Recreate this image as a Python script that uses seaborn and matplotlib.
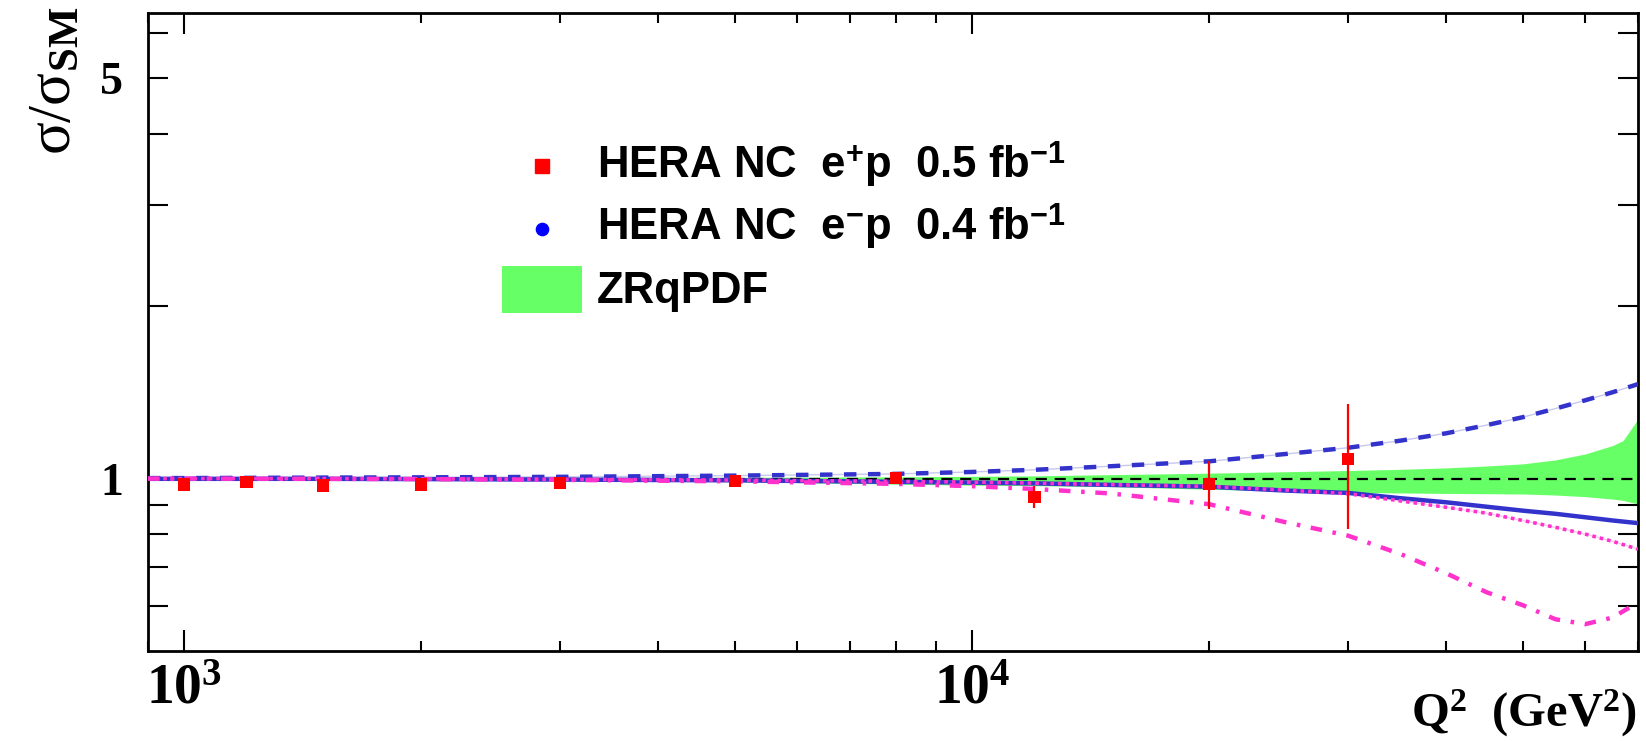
import matplotlib
matplotlib.use("Agg")
import matplotlib.pyplot as plt
import seaborn as sns
from matplotlib.patches import Rectangle
from matplotlib.ticker import LogLocator, NullFormatter, FixedLocator

# ---------------- data ----------------
q2_curve = [900, 1000, 1500, 2000, 3000, 5000, 8000, 10000, 12000, 15000, 20000,
            25000, 30000, 35000, 40000, 45000, 50000, 55000, 60000, 65000, 70000]
blue_dashed = [1.002, 1.002, 1.004, 1.005, 1.007, 1.012, 1.019, 1.027, 1.036, 1.051, 1.072,
               1.104, 1.132, 1.165, 1.200, 1.240, 1.280, 1.325, 1.370, 1.415, 1.462]
blue_solid = [0.999, 0.999, 0.999, 0.998, 0.996, 0.993, 0.987, 0.984, 0.981, 0.975, 0.968,
              0.953, 0.944, 0.924, 0.909, 0.893, 0.879, 0.868, 0.856, 0.845, 0.836]
magenta_dotted = [1.0, 1.0, 1.0, 0.999, 0.997, 0.994, 0.989, 0.986, 0.982, 0.976, 0.969,
                  0.955, 0.941, 0.914, 0.891, 0.870, 0.845, 0.822, 0.800, 0.777, 0.753]
magenta_dashdot = [1.0, 1.0, 0.999, 0.998, 0.995, 0.989, 0.979, 0.970, 0.959, 0.942, 0.902,
                   0.839, 0.795, 0.738, 0.683, 0.633, 0.601, 0.568, 0.557, 0.572, 0.608]

q2_band = [900, 1000, 2000, 3000, 5000, 8000, 10000, 12000, 15000, 20000, 25000, 30000,
           35000, 40000, 45000, 50000, 55000, 60000, 65000, 67000, 70000]
band_hi = [1.002, 1.002, 1.003, 1.004, 1.005, 1.007, 1.009, 1.011, 1.016, 1.022, 1.028, 1.033,
           1.038, 1.044, 1.052, 1.061, 1.078, 1.104, 1.142, 1.165, 1.270]
band_lo = [0.998, 0.998, 0.996, 0.993, 0.988, 0.978, 0.974, 0.972, 0.968, 0.958, 0.951, 0.946,
           0.944, 0.942, 0.941, 0.940, 0.936, 0.930, 0.921, 0.916, 0.903]

q2_data = [1000, 1200, 1500, 2000, 3000, 5000, 8000, 12000, 20000, 30000]
ratio_data = [0.976, 0.985, 0.973, 0.977, 0.981, 0.991, 1.001, 0.930, 0.979, 1.081]
err_lo = [0.008, 0.008, 0.008, 0.008, 0.008, 0.009, 0.010, 0.041, 0.094, 0.264]
err_hi = [0.008, 0.008, 0.008, 0.008, 0.008, 0.009, 0.010, 0.042, 0.096, 0.266]

legend_labels = [r"HERA NC  e$^{\mathsf{+}}$p  0.5 fb$^{\mathsf{-1}}$",
                 r"HERA NC  e$^{\mathsf{-}}$p  0.4 fb$^{\mathsf{-1}}$",
                 "ZRqPDF"]
x_ticks = [1000, 10000]
x_ticklabels = [r"$\mathbf{10^{3}}$", r"$\mathbf{10^{4}}$"]
y_ticks = [1, 5]
y_ticklabels = ["1", "5"]
y_minor = [0.6, 0.7, 0.8, 0.9, 2, 3, 4, 6]

# ---------------- style ----------------
sns.set_style("ticks")
plt.rcParams.update({
    "font.family": ["Liberation Sans", "DejaVu Sans"],
    "mathtext.fontset": "custom",
    "mathtext.rm": "Liberation Serif",
    "mathtext.it": "Liberation Serif:italic",
    "mathtext.bf": "Liberation Serif:bold",
    "mathtext.sf": "Liberation Sans:bold",
    "axes.linewidth": 2.0,
    "axes.edgecolor": "black",
    "text.color": "black",
    "axes.labelcolor": "black",
    "xtick.color": "black",
    "ytick.color": "black",
})

GREEN = "#66ff66"
BLUE = "#3333cc"
MAGENTA = "#ff33cc"

fig = plt.figure(figsize=(16.46, 7.41), dpi=100)
ax = fig.add_axes([148 / 1646, 1 - 651 / 741, 1490 / 1646, 638 / 741])
ax.set_xscale("log")
ax.set_yscale("log")

ax.fill_between(q2_band, band_lo, band_hi, color=GREEN, lw=0, zorder=1)
ax.axhline(1.0, color="black", lw=1.6, ls=(0, (5, 3.5)), zorder=2)

# faint halo lines (rendering look of the reference)
sns.lineplot(x=q2_curve, y=blue_dashed, color="#c8c8ee", lw=1.0, ax=ax,
             estimator=None, sort=False, zorder=2.5)
sns.lineplot(x=q2_curve, y=magenta_dotted, color="#ffc8ee", lw=1.0, ax=ax,
             estimator=None, sort=False, zorder=2.5)

sns.lineplot(x=q2_curve, y=blue_solid, color=BLUE, lw=3.2, ax=ax,
             estimator=None, sort=False, zorder=3)
sns.lineplot(x=q2_curve, y=blue_dashed, color=BLUE, lw=3.2, linestyle=(0, (2.8, 2.6)),
             ax=ax, estimator=None, sort=False, zorder=3)
sns.lineplot(x=q2_curve, y=magenta_dotted, color=MAGENTA, lw=2.6, linestyle=(0, (1.0, 1.1)),
             ax=ax, estimator=None, sort=False, zorder=3.2)
sns.lineplot(x=q2_curve, y=magenta_dashdot, color=MAGENTA, lw=3.2,
             linestyle=(0, (2.6, 2.4, 0.8, 2.4)),
             ax=ax, estimator=None, sort=False, zorder=3.1)

ax.errorbar(q2_data, ratio_data, yerr=[err_lo, err_hi], fmt="none", ecolor="red",
            elinewidth=1.6, capsize=0, zorder=4)
sns.scatterplot(x=q2_data, y=ratio_data, marker="s", color="red", s=78,
                edgecolor="none", linewidth=0, ax=ax, zorder=5)

ax.set_xlim(900, 70000)
ax.set_ylim(0.5, 6.5)

# ticks
ax.xaxis.set_major_locator(FixedLocator(x_ticks))
ax.set_xticklabels(x_ticklabels, fontsize=40, color="black")
ax.xaxis.set_minor_locator(LogLocator(base=10, subs=range(2, 10)))
ax.xaxis.set_minor_formatter(NullFormatter())
ax.yaxis.set_major_locator(FixedLocator(y_ticks))
ax.set_yticklabels(y_ticklabels, fontsize=33, fontweight="bold", family="Liberation Serif",
                   color="black")
ax.yaxis.set_minor_locator(FixedLocator(y_minor))
ax.yaxis.set_minor_formatter(NullFormatter())

ax.tick_params(axis="x", which="major", direction="in", length=15, width=1.5,
               top=True, bottom=True, pad=9, colors="black")
ax.tick_params(axis="x", which="minor", direction="in", length=7.5, width=1.5,
               top=True, bottom=True, colors="black")
ax.tick_params(axis="y", which="both", direction="in", length=14.5, width=1.5,
               left=True, right=True, pad=18, colors="black")
ax.set_xlabel("")
ax.set_ylabel("")
for s in ax.spines.values():
    s.set_visible(True)
    s.set_linewidth(2.0)
    s.set_color("black")

# legend (manual, in axes fraction)
ax.plot([0.2641], [0.7602], marker="s", ms=9.4, color="red", ls="none",
        transform=ax.transAxes, clip_on=False, zorder=6)
ax.plot([0.2641], [0.6614], marker="o", ms=8.8, color="blue", ls="none",
        transform=ax.transAxes, clip_on=False, zorder=6)
ax.add_patch(Rectangle((0.2376, 0.5298), 0.0537, 0.0736, transform=ax.transAxes,
                       facecolor=GREEN, edgecolor="none", zorder=6))
for yb, lab in zip([0.7414, 0.6442, 0.5455], legend_labels):
    ax.text(0.3013, yb, lab, transform=ax.transAxes, fontsize=31.5, fontweight="bold",
            family="Liberation Sans", va="baseline", ha="left", zorder=6, color="black")

# axis titles
fig.text(70 / 1646, 1 - 7 / 741, r"σ/σ$_{\mathbf{SM}}$", rotation=90, rotation_mode="anchor",
         ha="right", va="baseline", fontsize=44, family="Liberation Serif", color="black")
fig.text(1637 / 1646, 1 - 727 / 741, r"$\mathbf{Q^{2}}$  $\mathbf{(GeV^{2})}$",
         ha="right", va="baseline", fontsize=35, family="Liberation Serif", fontweight="bold",
         color="black")

fig.savefig("out.png", dpi=100)
